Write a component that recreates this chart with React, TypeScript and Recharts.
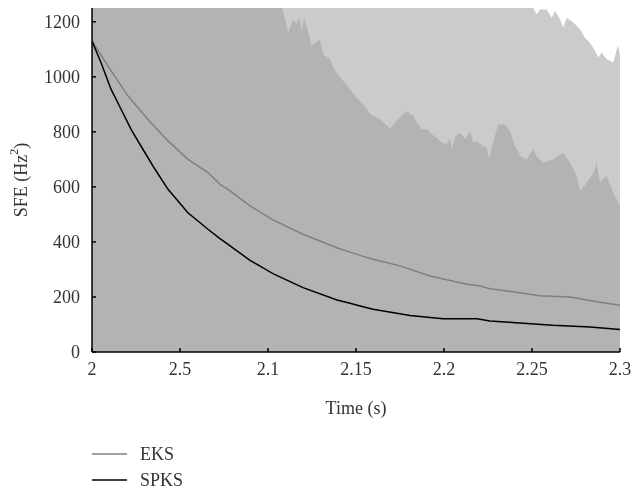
import React from "react";
import { ComposedChart, Area, Line, XAxis, YAxis, Legend } from "recharts";

// ---- data ----
const xTicks = [2.0, 2.05, 2.1, 2.15, 2.2, 2.25, 2.3];
const xTickLabels = ["2", "2.5", "2.1", "2.15", "2.2", "2.25", "2.3"];
const yTicks = [0, 200, 400, 600, 800, 1000, 1200];

// upper bound of the darker shaded band
const darkTimes = [
  2.0, 2.108, 2.1097, 2.1115, 2.1144, 2.1163, 2.1178, 2.1191, 2.1206, 2.1229,
  2.1248, 2.1267, 2.1295, 2.1314, 2.1352, 2.1381, 2.1419, 2.1466, 2.1504, 2.1551,
  2.158, 2.1636, 2.1693, 2.1712, 2.1731, 2.1769, 2.1788, 2.1826, 2.1845, 2.1873,
  2.1901, 2.193, 2.1959, 2.1987, 2.2015, 2.2034, 2.2043, 2.2063, 2.2082, 2.2101,
  2.2119, 2.2148, 2.2166, 2.2186, 2.2223, 2.2243, 2.2257, 2.2271, 2.229, 2.2308,
  2.2347, 2.2375, 2.2403, 2.2422, 2.2432, 2.247, 2.2507, 2.2526, 2.2564, 2.262,
  2.2678, 2.2716, 2.2754, 2.2773, 2.2811, 2.2849, 2.2868, 2.2886, 2.2924, 2.2962,
  2.2982, 2.3,
];
const darkUpper = [
  1250, 1250, 1209, 1162, 1209, 1191, 1215, 1166, 1215, 1161,
  1112, 1124, 1136, 1082, 1064, 1021, 991, 955, 924, 894,
  864, 846, 812, 827, 839, 864, 876, 858, 834, 809,
  809, 791, 779, 761, 755, 779, 737, 779, 797, 791,
  773, 803, 761, 767, 749, 743, 700, 743, 785, 827,
  827, 803, 749, 730, 712, 700, 737, 712, 688, 700,
  724, 688, 640, 585, 615, 652, 688, 615, 640, 579,
  555, 530,
];

// upper bound of the lighter shaded band
const lightTimes = [
  2.0, 2.2507, 2.2526, 2.2545, 2.2584, 2.2612, 2.2631, 2.2659, 2.2678, 2.2697,
  2.2735, 2.2773, 2.2801, 2.283, 2.2858, 2.2877, 2.2896, 2.2924, 2.2962, 2.2982,
  2.2991, 2.3,
];
const lightUpper = [
  1250, 1250, 1227, 1245, 1245, 1215, 1239, 1209, 1179, 1215,
  1197, 1173, 1142, 1124, 1094, 1070, 1088, 1064, 1052, 1100,
  1112, 1076,
];

const eksTimes = [
  2.0, 2.0091, 2.0205, 2.0318, 2.0432, 2.0545, 2.0659, 2.0727, 2.0773, 2.0898,
  2.1028, 2.1199, 2.1392, 2.1466, 2.1523, 2.1597, 2.175, 2.192, 2.2131, 2.2205,
  2.2261, 2.2358, 2.2545, 2.2716, 2.2869, 2.3,
];
const eksValues = [
  1130, 1039, 930, 845, 767, 700, 652, 609, 591, 531,
  480, 428, 379, 363, 351, 337, 313, 276, 246, 240,
  230, 222, 204, 200, 183, 170,
];

const spksTimes = [
  2.0, 2.0051, 2.0108, 2.0165, 2.0222, 2.0301, 2.0358, 2.0432, 2.0545, 2.0659,
  2.0727, 2.0773, 2.0898, 2.1028, 2.1199, 2.1392, 2.1466, 2.1523, 2.1597, 2.1807,
  2.1994, 2.2188, 2.2261, 2.2392, 2.2619, 2.283, 2.3,
];
const spksValues = [
  1130, 1052, 955, 882, 809, 724, 664, 591, 506, 446,
  412, 391, 333, 285, 234, 189, 177, 167, 155, 133,
  121, 121, 113, 107, 97, 91, 82,
];

const legendItems = [
  { name: "EKS", color: "#808080" },
  { name: "SPKS", color: "#000000" },
];

// ---- derived tables ----
const darkData = darkTimes.map((t, i) => ({ t, v: darkUpper[i] }));
const lightData = lightTimes.map((t, i) => ({ t, v: lightUpper[i] }));
const eksData = eksTimes.map((t, i) => ({ t, v: eksValues[i] }));
const spksData = spksTimes.map((t, i) => ({ t, v: spksValues[i] }));

const FONT = "'Liberation Serif', 'Times New Roman', serif";
const TEXT_COLOR = "#333333";
const FS = 18;
const tickStyle = { fontFamily: FONT, fontSize: FS, fill: TEXT_COLOR, fontWeight: 400 };

const LegendContent = () => (
  <div style={{ position: "relative", width: 627, height: 71 }}>
    <svg width={627} height={71} style={{ position: "absolute", left: 0, top: 0 }}>
      {legendItems.map((it, i) => {
        const y = 32 + i * 26;
        return (
          <g key={it.name}>
            <line x1={84} x2={119} y1={y} y2={y} stroke={it.color} strokeWidth={1.5} />
            <text
              x={132}
              y={y + 6}
              style={{ fontFamily: FONT, fontSize: FS, fill: TEXT_COLOR, fontWeight: 400 }}
            >
              {it.name}
            </text>
          </g>
        );
      })}
    </svg>
  </div>
);

const YLabel = (props: any) => {
  const vb = props.viewBox || { x: 0, y: 0, width: 84, height: 344 };
  const cx = vb.x + 13;
  const cy = vb.y + vb.height / 2;
  return (
    <text
      x={cx}
      y={cy}
      transform={`rotate(-90 ${cx} ${cy})`}
      textAnchor="middle"
      dominantBaseline="central"
      style={{ fontFamily: FONT, fontSize: FS, fill: TEXT_COLOR, fontWeight: 400 }}
    >
      SFE (Hz
      <tspan baselineShift="super" fontSize={12}>2</tspan>
      )
    </text>
  );
};

const XLabel = (props: any) => {
  const vb = props.viewBox || { x: 84, y: 344, width: 528, height: 70 };
  return (
    <text
      x={vb.x + vb.width / 2}
      y={vb.y + 62}
      textAnchor="middle"
      style={{ fontFamily: FONT, fontSize: FS, fill: TEXT_COLOR, fontWeight: 400 }}
    >
      Time (s)
    </text>
  );
};

export default function App() {
  return (
    <div style={{ position: "fixed", left: 8, top: 8, width: 627, height: 485 }}>
      <ComposedChart
        width={627}
        height={485}
        margin={{ top: 0, right: 15, left: 0, bottom: 0 }}
      >
        <XAxis
          dataKey="t"
          type="number"
          domain={[2.0, 2.3]}
          ticks={xTicks}
          tickFormatter={(v: number, i: number) => xTickLabels[i] ?? String(v)}
          allowDataOverflow
          height={70}
          tickSize={-4}
          tickMargin={14}
          tick={tickStyle}
          axisLine={{ stroke: "#000", strokeWidth: 1.5 }}
          tickLine={{ stroke: "#000", strokeWidth: 1.5 }}
          interval={0}
          label={<XLabel />}
        />
        <YAxis
          type="number"
          domain={[0, 1250]}
          ticks={yTicks}
          allowDataOverflow
          width={84}
          tickSize={-4}
          tickMargin={16}
          tick={tickStyle}
          axisLine={{ stroke: "#000", strokeWidth: 1.5 }}
          tickLine={{ stroke: "#000", strokeWidth: 1.5 }}
          interval={0}
          label={<YLabel />}
        />
        <Legend
          verticalAlign="bottom"
          align="left"
          content={<LegendContent />}
          wrapperStyle={{ left: 0, width: 627, height: 71 }}
        />
        <Area
          data={lightData}
          dataKey="v"
          type="linear"
          fill="#cbcbcb"
          fillOpacity={1}
          stroke="none"
          isAnimationActive={false}
          legendType="none"
        />
        <Area
          data={darkData}
          dataKey="v"
          type="linear"
          fill="#b3b3b3"
          fillOpacity={1}
          stroke="none"
          isAnimationActive={false}
          legendType="none"
        />
        <Line
          data={eksData}
          dataKey="v"
          name="EKS"
          type="linear"
          stroke="#808080"
          strokeWidth={1.5}
          dot={false}
          isAnimationActive={false}
        />
        <Line
          data={spksData}
          dataKey="v"
          name="SPKS"
          type="linear"
          stroke="#000000"
          strokeWidth={1.5}
          dot={false}
          isAnimationActive={false}
        />
      </ComposedChart>
    </div>
  );
}
